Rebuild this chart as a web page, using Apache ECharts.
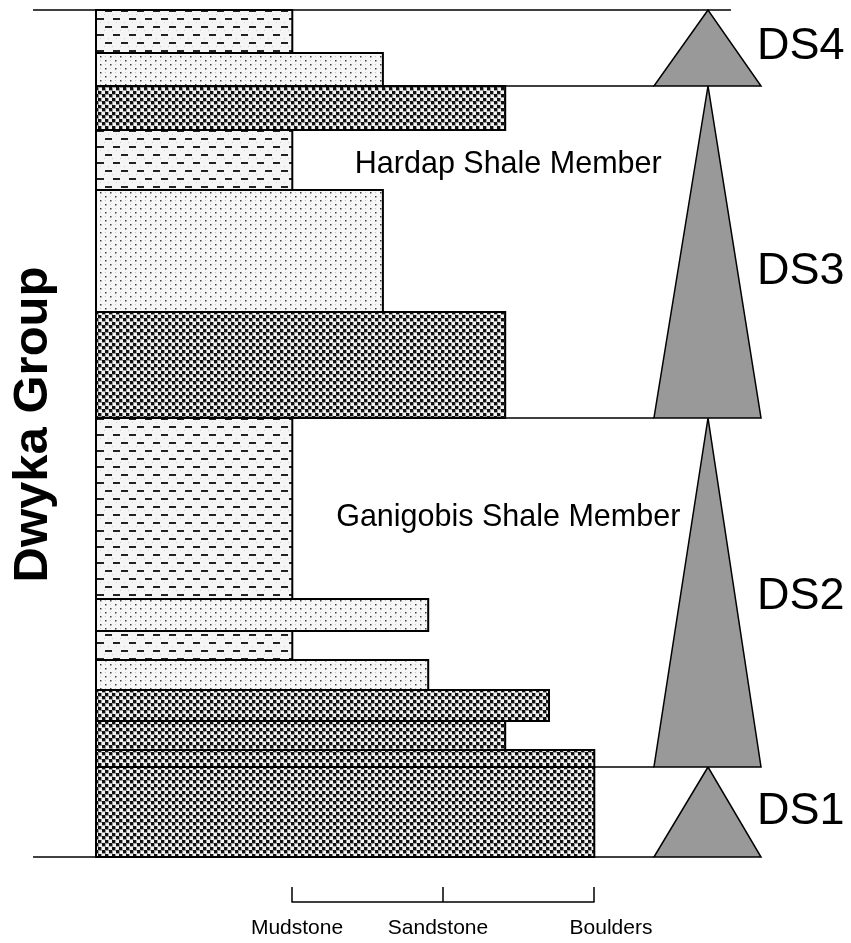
<!DOCTYPE html>
<html><head><meta charset="utf-8">
<script src="https://cdn.jsdelivr.net/npm/echarts@6/dist/echarts.min.js"></script>
<style>html,body{margin:0;padding:0;background:#fff}#main{width:851px;height:943px}</style>
</head><body><div id="main"></div>
<script>
// ---- Data (stratigraphic levels, arbitrary units from base; grain-size class: 1 = mudstone, 2 = sandstone, 3 = boulders)
const layerBase  = [0, 9.0, 10.7, 13.6, 16.7, 19.7, 22.6, 25.8, 43.9, 54.5, 66.7, 72.7, 77.1, 80.4];
const layerTop   = [9.0, 10.7, 13.6, 16.7, 19.7, 22.6, 25.8, 43.9, 54.5, 66.7, 72.7, 77.1, 80.4, 84.7];
const layerGrain = [3.0, 3.0, 2.41, 2.7, 1.9, 1.0, 1.9, 1.0, 2.41, 1.6, 1.0, 2.41, 1.6, 1.0];
const layerLith  = ['coarse','coarse','coarse','coarse','sand','mud','sand','mud','coarse','sand','mud','coarse','sand','mud'];

const seqNames = ['DS1', 'DS2', 'DS3', 'DS4'];
const seqBase  = [0, 9.0, 43.9, 77.1];
const seqTop   = [9.0, 43.9, 77.1, 84.7];

const memberNames = ['Ganigobis Shale Member', 'Hardap Shale Member'];
const memberLevel = [33.9, 69.2];

const grainTicks = ['Mudstone', 'Sandstone', 'Boulders'];
const groupName = 'Dwyka Group';

// ---- Layout / style constants
const X_MIN = -0.3, X_MAX = 4.3, Y_MAX = 84.7;
const TRI = { left: 3.395, apex: 3.753, right: 4.104 };
const LINE_LEFT = -0.717, TOP_LINE_RIGHT = 3.905;
const MEMBER_X = 2.43;
const FONT = 'Liberation Sans, Arial, sans-serif';
const SEQ_LABEL_DY = [0, 4, 20, -1];          // small vertical nudges of DS labels (px)
const TICK_RICH = ['m', 's', 'b'];

function tile(w, h, draw) {
  const c = document.createElement('canvas');
  c.width = w; c.height = h;
  draw(c.getContext('2d'));
  return { image: c, repeat: 'repeat' };
}
const patterns = {
  mud: tile(16, 16, g => {
    g.fillStyle = '#f5f5f5'; g.fillRect(0, 0, 16, 16);
    g.fillStyle = '#cfcfcf';
    [[4,6],[12,6],[0,14],[8,14]].forEach(p => g.fillRect(p[0], p[1], 1, 1));
    g.fillStyle = '#222';
    g.fillRect(1, 2, 7, 2);
    g.fillRect(9, 10, 7, 2);
  }),
  sand: tile(10, 8, g => {
    g.fillStyle = '#f7f7f7'; g.fillRect(0, 0, 10, 8);
    g.fillStyle = '#c4c4c4';
    g.fillRect(5, 0, 1, 1); g.fillRect(0, 4, 1, 1);
    g.fillStyle = '#404040';
    g.fillRect(0, 0, 1.5, 1.5); g.fillRect(5, 4, 1.5, 1.5);
  }),
  coarse: tile(7, 7, g => {
    g.fillStyle = '#f2f2f2'; g.fillRect(0, 0, 7, 7);
    g.fillStyle = '#9a9a9a';
    g.fillRect(0, 0, 4, 4); g.fillRect(4, 3, 4, 4); g.fillRect(-3, 3, 4, 4);
    g.fillStyle = '#111';
    g.fillRect(0, 0, 3, 3); g.fillRect(4, 3, 3, 3); g.fillRect(-3, 3, 3, 3);
  })
};

const layerData = layerBase.map((b, i) => [b, layerTop[i], layerGrain[i]]);
const seqData = seqBase.map((b, i) => [b, seqTop[i]]);
const memberData = memberLevel.map(v => [MEMBER_X, v]);

const chart = echarts.init(document.getElementById('main'), null, { renderer: 'canvas' });

chart.setOption({
  animation: false,
  backgroundColor: '#fff',
  grid: [
    { left: 96, top: 10, width: 151 * (X_MAX - X_MIN), height: 847, containLabel: false, outerBoundsMode: 'none' },
    { left: 292, top: 887, width: 302, height: 15, containLabel: false, outerBoundsMode: 'none' }
  ],
  xAxis: [
    { gridIndex: 0, type: 'value', min: X_MIN, max: X_MAX, show: false },
    {
      gridIndex: 1, type: 'value', min: 1, max: 3, interval: 1,
      axisLine: { show: true, lineStyle: { color: '#000', width: 1.5 } },
      axisTick: { show: true, inside: true, length: 15, lineStyle: { color: '#000', width: 1.5 } },
      splitLine: { show: false },
      axisLabel: {
        margin: 16, color: '#000', fontSize: 21, fontFamily: FONT,
        formatter: v => { const k = Math.round(v) - 1; return '{' + TICK_RICH[k] + '|' + grainTicks[k] + '}'; },
        rich: {
          m: { fontSize: 21, fontFamily: FONT, color: '#000', padding: [0, 0, 0, 10] },
          s: { fontSize: 21, fontFamily: FONT, color: '#000', padding: [0, 10, 0, 0] },
          b: { fontSize: 21, fontFamily: FONT, color: '#000', padding: [0, 0, 0, 34] }
        }
      }
    }
  ],
  yAxis: [
    {
      gridIndex: 0, type: 'value', min: 0, max: Y_MAX,
      axisLine: { show: false }, axisTick: { show: false }, axisLabel: { show: false }, splitLine: { show: false },
      name: groupName, nameLocation: 'middle', nameRotate: 90, nameGap: 38,
      nameTextStyle: { fontSize: 49, fontWeight: 'bold', fontFamily: FONT, color: '#000', padding: [0, 0, 0, 18] }
    },
    { gridIndex: 1, type: 'value', min: 0, max: 1, show: false }
  ],
  series: [
    {
      // sequence boundary lines
      type: 'custom', xAxisIndex: 0, yAxisIndex: 0, z: 1, clip: false, silent: true,
      data: seqData,
      renderItem: (params, api) => {
        const base = api.value(0), top = api.value(1);
        const i = params.dataIndex;
        const children = [];
        const lineStyle = { stroke: '#000', lineWidth: 1.5 };
        const bl = api.coord([i === 0 ? LINE_LEFT : X_MIN, base]);
        const br = api.coord([TRI.left, base]);
        children.push({ type: 'line', shape: { x1: bl[0], y1: bl[1], x2: br[0], y2: br[1] }, style: lineStyle });
        if (i === seqData.length - 1) {
          const tl = api.coord([LINE_LEFT, top]);
          const tr = api.coord([TOP_LINE_RIGHT, top]);
          children.push({ type: 'line', shape: { x1: tl[0], y1: tl[1], x2: tr[0], y2: tr[1] }, style: lineStyle });
        }
        return { type: 'group', children };
      }
    },
    {
      // lithology layers
      type: 'custom', xAxisIndex: 0, yAxisIndex: 0, z: 2, clip: false, silent: true,
      data: layerData,
      renderItem: (params, api) => {
        const p0 = api.coord([X_MIN, api.value(1)]);
        const p1 = api.coord([api.value(2), api.value(0)]);
        return {
          type: 'rect',
          shape: { x: p0[0], y: p0[1], width: p1[0] - p0[0], height: p1[1] - p0[1] },
          style: { fill: patterns[layerLith[params.dataIndex]], stroke: '#000', lineWidth: 2 }
        };
      }
    },
    {
      // depositional sequence triangles + labels
      type: 'custom', xAxisIndex: 0, yAxisIndex: 0, z: 3, clip: false, silent: true,
      data: seqData,
      renderItem: (params, api) => {
        const base = api.value(0), top = api.value(1);
        const a = api.coord([TRI.apex, top]);
        const l = api.coord([TRI.left, base]);
        const r = api.coord([TRI.right, base]);
        const mid = api.coord([TRI.apex, (base + top) / 2]);
        return {
          type: 'group',
          children: [
            { type: 'polygon', shape: { points: [a, l, r] }, style: { fill: '#999999', stroke: '#000', lineWidth: 1.5, lineJoin: 'miter' } },
            { type: 'text', x: a[0] + 49, y: mid[1] + SEQ_LABEL_DY[params.dataIndex], style: { text: seqNames[params.dataIndex], fill: '#000', fontSize: 45, fontFamily: FONT, align: 'left', verticalAlign: 'middle' } }
          ]
        };
      }
    },
    {
      // formation member labels
      type: 'custom', xAxisIndex: 0, yAxisIndex: 0, z: 4, clip: false, silent: true,
      data: memberData,
      renderItem: (params, api) => {
        const p = api.coord([api.value(0), api.value(1)]);
        return { type: 'text', x: p[0], y: p[1], style: { text: memberNames[params.dataIndex], fill: '#000', fontSize: 30.5, fontFamily: FONT, align: 'center', verticalAlign: 'middle' } };
      }
    },
    {
      // grain-size scale carrier (no marks)
      type: 'line', xAxisIndex: 1, yAxisIndex: 1, data: [], silent: true
    }
  ]
});
</script></body></html>
